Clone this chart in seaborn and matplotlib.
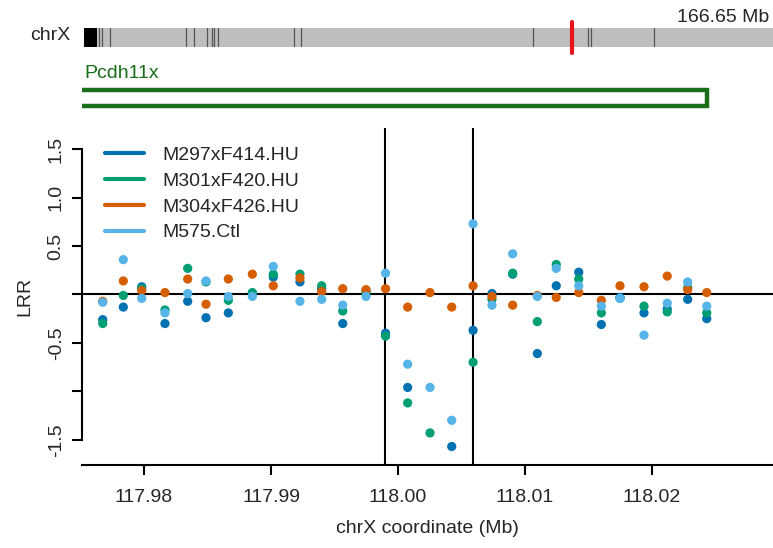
import numpy as np
import pandas as pd
import matplotlib
matplotlib.use("Agg")
import matplotlib.pyplot as plt
from matplotlib.lines import Line2D
from matplotlib.patches import Rectangle
import seaborn as sns

# ---------------- data ----------------
x_mb = [117.97675, 117.97837, 117.97982, 117.98165, 117.98344, 117.98488, 117.98664,
        117.98853, 117.99018, 117.99228, 117.99399, 117.99565, 117.99748, 117.99902,
        118.00076, 118.00252, 118.00423, 118.00591, 118.00740, 118.00903, 118.01097,
        118.01246, 118.01423, 118.01601, 118.01748, 118.01937, 118.02120, 118.02281,
        118.02431]
series_names = ["M297xF414.HU", "M301xF420.HU", "M304xF426.HU", "M575.Ctl"]
m297 = [-0.26, -0.13, 0.08, -0.30, -0.07, -0.24, -0.19, 0.01, 0.18, 0.13, 0.06, -0.30, 0.04,
        -0.40, -0.96, np.nan, -1.57, -0.37, 0.01, 0.21, -0.61, 0.09, 0.23, -0.31, -0.03,
        -0.19, -0.15, -0.05, -0.25]
m301 = [-0.30, -0.01, 0.06, -0.16, 0.27, 0.13, -0.06, 0.02, 0.21, 0.21, 0.09, -0.17, 0.02,
        -0.43, -1.12, -1.43, np.nan, -0.70, -0.05, 0.22, -0.28, 0.31, 0.16, -0.19, -0.04,
        -0.12, -0.18, 0.07, -0.19]
m304 = [-0.07, 0.14, 0.04, 0.02, 0.16, -0.10, 0.16, 0.21, 0.09, 0.17, 0.03, 0.06, 0.05,
        0.06, -0.13, 0.02, -0.13, 0.09, -0.02, -0.11, -0.01, -0.03, 0.02, -0.06, 0.09,
        0.08, 0.19, 0.05, 0.02]
m575 = [-0.08, 0.36, -0.04, -0.19, 0.01, 0.14, -0.02, -0.02, 0.29, -0.07, -0.05, -0.11, -0.02,
        0.22, -0.72, -0.96, -1.30, 0.73, -0.11, 0.42, -0.02, 0.27, 0.09, -0.12, -0.04,
        -0.42, -0.09, 0.13, -0.12]
colors = ["#0072B2", "#009E73", "#D55E00", "#56B4E9"]

breakpoints = [117.9990, 118.0059]
y_ticks = [-1.5, -1.0, -0.5, 0.0, 0.5, 1.0, 1.5]
y_ticklabels = ["-1.5", "", "-0.5", "", "0.5", "1.0", "1.5"]
x_ticks = [117.98, 117.99, 118.00, 118.01, 118.02]
x_ticklabels = ["117.98", "117.99", "118.00", "118.01", "118.02"]

chr_name = "chrX"
chr_len = 166.65
centromere = (0.0, 3.07)
band_lines = [3.63, 4.43, 6.36, 24.6, 26.68, 29.82, 30.89, 31.37, 32.34, 50.87, 52.49,
              108.67, 121.98, 122.56, 137.87]
current_pos = 118.0
gene_name = "Pcdh11x"
gene_start, gene_end = 117.20, 118.0243

# ---------------- style ----------------
sns.set_theme(style="white")
FONT = ["Liberation Sans", "DejaVu Sans"]
plt.rcParams["font.family"] = FONT
FS = 14

W, H = 773, 548
fig = plt.figure(figsize=(W / 100, H / 100), dpi=100)

def fx(px):
    return px / W

def fy(py):
    return 1 - py / H

# ---------------- main panel ----------------
ax = fig.add_axes([fx(82), fy(465), fx(773) - fx(82), fy(128) - fy(465)])
df = pd.DataFrame({
    "x": np.tile(x_mb, 4),
    "LRR": np.concatenate([m297, m301, m304, m575]),
    "sample": np.repeat(series_names, len(x_mb)),
}).dropna()
sns.scatterplot(data=df, x="x", y="LRR", hue="sample", hue_order=series_names,
                palette=colors, s=44, linewidth=0, alpha=1, ax=ax, legend=False, zorder=3)
ax.axhline(0, color="black", lw=1.5, zorder=2)
for b in breakpoints:
    ax.axvline(b, color="black", lw=1.5, zorder=2)

ax.set_xlim(117.975118, 117.975118 + 691 / 12700)
ax.set_ylim(1.720 - 337 / 96.8, 1.720)
for s in ["top", "right"]:
    ax.spines[s].set_visible(False)
for s in ["left", "bottom"]:
    ax.spines[s].set_color("black")
    ax.spines[s].set_linewidth(1.5)
ax.spines["left"].set_bounds(-1.5, 1.5)
ax.set_yticks(y_ticks)
ax.set_yticklabels(y_ticklabels, rotation=90, va="center", fontsize=FS)
ax.set_xticks(x_ticks)
ax.set_xticklabels(x_ticklabels, fontsize=FS)
ax.tick_params(axis="both", direction="out", length=7.5, width=1.5, color="black",
               left=True, bottom=True)
ax.tick_params(axis="y", pad=5)
ax.tick_params(axis="x", pad=10)
ax.set_xlabel("chrX coordinate (Mb)", fontsize=FS, labelpad=10)
ax.set_ylabel("LRR", fontsize=FS, labelpad=10)
ax.grid(False)

handles = [Line2D([0], [0], color=c, lw=3) for c in colors]
leg = ax.legend(handles, series_names, loc="upper left", bbox_to_anchor=(0.006, 1.0),
                frameon=False, fontsize=FS, handlelength=2.0, handletextpad=0.95,
                labelspacing=0.42, borderaxespad=0.55)

# ---------------- ideogram ----------------
axi = fig.add_axes([fx(84), fy(47), fx(773) - fx(84), fy(28) - fy(47)])
axi.set_xlim(0, chr_len)
axi.set_ylim(0, 1)
axi.axis("off")
axi.add_patch(Rectangle((0, 0), chr_len, 1, facecolor="#bebebe", edgecolor="none"))
axi.add_patch(Rectangle((centromere[0], 0), centromere[1] - centromere[0], 1,
                        facecolor="black", edgecolor="none"))
for b in band_lines:
    axi.plot([b, b], [0, 1], color="#555555", lw=0.9)
axi.plot([current_pos, current_pos], [-0.30, 1.33], color="#e8141b", lw=3,
         solid_capstyle="round", clip_on=False)
axi.text(chr_len - 0.8, 1.1, f"{chr_len:.2f} Mb", ha="right", va="bottom", fontsize=FS)
fig.text(fx(70), fy(36), chr_name, ha="right", va="center", fontsize=FS)

# ---------------- gene track ----------------
axg = fig.add_axes([fx(82), fy(110), fx(773) - fx(82), fy(60) - fy(110)])
axg.set_xlim(ax.get_xlim())
axg.set_ylim(0, 50)
axg.axis("off")
gcol = "#1a6e1a"
axg.add_patch(Rectangle((gene_start, 4), gene_end - gene_start, 16, facecolor="none",
                        edgecolor=gcol, lw=3.2, joinstyle="miter"))
axg.text(117.975118 + 2 / 12700, 36, gene_name, color=gcol, fontsize=FS,
         ha="left", va="center")

fig.savefig("out.png", dpi=100, facecolor="white")
